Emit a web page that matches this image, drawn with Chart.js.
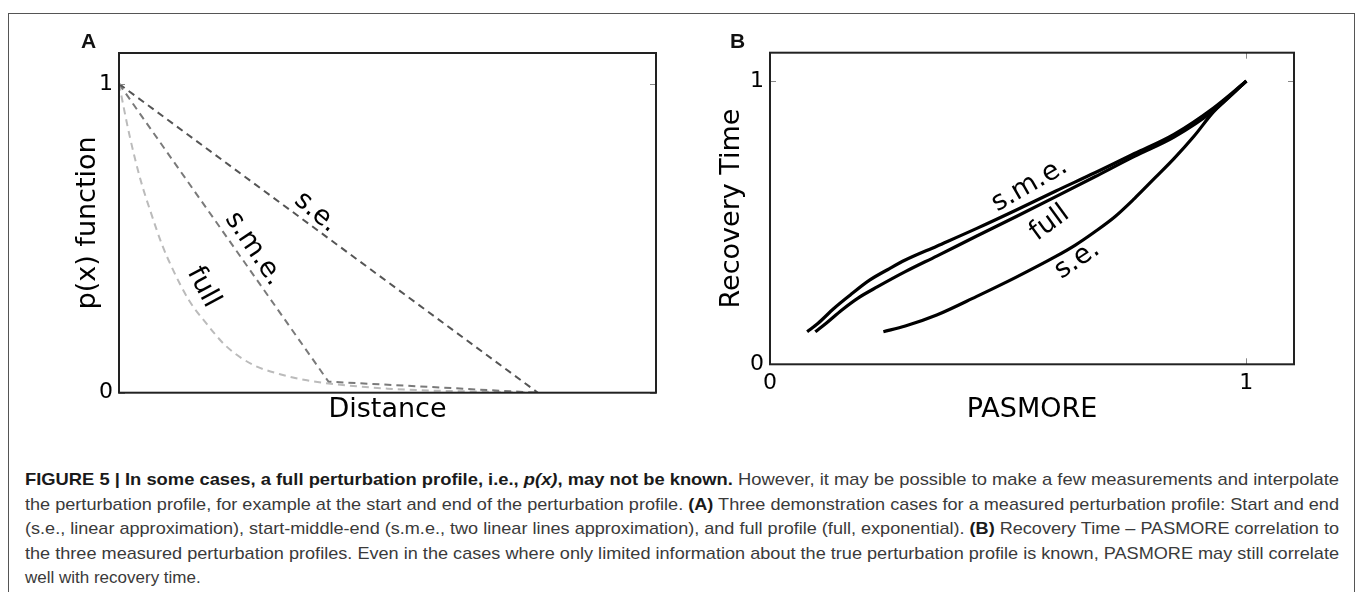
<!DOCTYPE html>
<html>
<head>
<meta charset="utf-8">
<script src="https://cdn.jsdelivr.net/npm/chart.js@4.4.1/dist/chart.umd.min.js"></script>
<style>
  html, body { margin: 0; padding: 0; background: #fff; width: 1358px; height: 592px; overflow: hidden; }
  #frame { position: absolute; left: 8px; top: 13px; width: 1347px; height: 640px; border: 1px solid #555; box-sizing: border-box; }
  canvas { position: absolute; top: 0; }
  #cA { left: 0; }
  #cB { left: 680px; }
  .panel { position: absolute; font-family: "Liberation Sans", Arial, sans-serif; font-weight: bold; font-size: 21px; color: #111; }
  #caption { position: absolute; left: 25px; top: 468px; width: 1314px; font-family: "Liberation Sans Narrow", "Liberation Sans", Arial, sans-serif; font-size: 17px; color: #3a3a3a; }
  #caption .ln { height: 24.5px; line-height: 24.5px; white-space: nowrap; }
  #caption .ln span.inner { display: inline-block; transform-origin: 0 50%; }
  #caption b { color: #1a1a1a; }
</style>
</head>
<body>
<div id="frame"></div>
<canvas id="cA" width="680" height="440"></canvas>
<canvas id="cB" width="678" height="440"></canvas>
<div class="panel" style="left:81px; top:29px;">A</div>
<div class="panel" style="left:730px; top:29px;">B</div>
<div id="caption">
  <div class="ln fit"><span class="inner"><b>FIGURE 5 | In some cases, a full perturbation profile, i.e., <i>p(x)</i>, may not be known.</b> However, it may be possible to make a few measurements and interpolate</span></div>
  <div class="ln fit"><span class="inner">the perturbation profile, for example at the start and end of the perturbation profile. <b>(A)</b> Three demonstration cases for a measured perturbation profile: Start and end</span></div>
  <div class="ln fit"><span class="inner">(s.e., linear approximation), start-middle-end (s.m.e., two linear lines approximation), and full profile (full, exponential). <b>(B)</b> Recovery Time – PASMORE correlation to</span></div>
  <div class="ln fit"><span class="inner">the three measured perturbation profiles. Even in the cases where only limited information about the true perturbation profile is known, PASMORE may still correlate</span></div>
  <div class="ln"><span class="inner">well with recovery time.</span></div>
</div>
<script>
// ---------- Panel A data: p(x) vs Distance ----------
const seX_A   = [0, 0.78];
const seY_A   = [1, 0];
const smeX_A  = [0, 0.39, 0.78];
const smeY_A  = [1, 0.036, 0];
const fullX_A = [0, 0.02, 0.04, 0.06, 0.08, 0.10, 0.13, 0.16, 0.20, 0.25, 0.30, 0.35, 0.40, 0.50, 0.60, 0.70, 0.78];
const fullY_A = [1.0, 0.83, 0.69, 0.58, 0.48, 0.40, 0.30, 0.23, 0.15, 0.09, 0.06, 0.04, 0.028, 0.013, 0.006, 0.003, 0.0];
const yTicksA = [0, 1];

// ---------- Panel B data: Recovery Time vs PASMORE ----------
const smeX_B  = [0.078, 0.101, 0.134, 0.168, 0.209, 0.251, 0.284, 0.350, 0.433, 0.516, 0.599, 0.682, 0.765, 0.848, 0.931, 1.0];
const smeY_B  = [0.115, 0.145, 0.197, 0.244, 0.297, 0.338, 0.368, 0.417, 0.479, 0.544, 0.611, 0.676, 0.744, 0.812, 0.905, 1.0];
const fullX_B = [0.095, 0.118, 0.151, 0.184, 0.226, 0.284, 0.350, 0.433, 0.516, 0.599, 0.682, 0.765, 0.848, 0.931, 1.0];
const fullY_B = [0.115, 0.145, 0.192, 0.233, 0.274, 0.327, 0.382, 0.452, 0.521, 0.591, 0.662, 0.734, 0.802, 0.895, 1.0];
const seX_B   = [0.238, 0.284, 0.350, 0.433, 0.516, 0.599, 0.641, 0.682, 0.724, 0.765, 0.807, 0.848, 0.890, 0.931, 1.0];
const seY_B   = [0.115, 0.135, 0.174, 0.239, 0.307, 0.380, 0.421, 0.468, 0.521, 0.585, 0.656, 0.726, 0.805, 0.891, 1.0];
const xTicksB = [0, 1];
const yTicksB = [0, 1];

// ---------- curve labels (text, data x, data y, rotation deg) ----------
const labelsA = [
  { text: 's.e.',   x: 0.367, y: 0.584, rot: 40 },
  { text: 's.m.e.', x: 0.251, y: 0.466, rot: 56 },
  { text: 'full',   x: 0.157, y: 0.342, rot: 62 }
];
const labelsB = [
  { text: 's.m.e.', x: 0.545, y: 0.633, rot: -30 },
  { text: 'full',   x: 0.587, y: 0.498, rot: -36 },
  { text: 's.e.',   x: 0.645, y: 0.368, rot: -34 }
];

const pts = (xs, ys) => xs.map((x, i) => ({ x: x, y: ys[i] }));
const FONT = '"DejaVu Sans", sans-serif';

const boxPlugin = {
  id: 'boxPlugin',
  afterDatasetsDraw(chart, args, opts) {
    const { ctx, chartArea: a, scales } = chart;
    ctx.save();
    ctx.strokeStyle = '#888';
    ctx.lineWidth = 1;
    const seg = (x1, y1, x2, y2) => { ctx.beginPath(); ctx.moveTo(x1, y1); ctx.lineTo(x2, y2); ctx.stroke(); };
    (opts.yTicks || []).forEach(v => {
      const y = Math.round(scales.y.getPixelForValue(v)) + 0.5;
      seg(a.left, y, a.left + 6, y); seg(a.right, y, a.right - 6, y);
    });
    (opts.xTicks || []).forEach(v => {
      const x = Math.round(scales.x.getPixelForValue(v)) + 0.5;
      seg(x, a.bottom, x, a.bottom - 6); seg(x, a.top, x, a.top + 6);
    });
    ctx.strokeStyle = '#222';
    ctx.lineWidth = 2;
    ctx.strokeRect(a.left, a.top, a.right - a.left, a.bottom - a.top);
    ctx.fillStyle = '#000';
    ctx.font = '27px ' + FONT;
    ctx.textAlign = 'center';
    ctx.textBaseline = 'middle';
    (opts.labels || []).forEach(l => {
      ctx.save();
      ctx.translate(scales.x.getPixelForValue(l.x), scales.y.getPixelForValue(l.y));
      ctx.rotate(l.rot * Math.PI / 180);
      ctx.fillText(l.text, 0, 0);
      ctx.restore();
    });
    ctx.restore();
  }
};

function baseOptions(cfg) {
  return {
    responsive: false,
    animation: false,
    devicePixelRatio: 1,
    layout: { padding: cfg.padding },
    plugins: { legend: { display: false }, tooltip: { enabled: false },
      boxPlugin: { yTicks: cfg.yTicks, xTicks: cfg.xTicks, labels: cfg.labels } },
    elements: { point: { radius: 0 } },
    scales: {
      x: {
        type: 'linear', min: 0, max: cfg.xMax,
        grid: { display: false, drawTicks: false },
        border: { display: false },
        afterFit: s => { s.height = cfg.xH; },
        afterBuildTicks: s => { s.ticks = (cfg.xTicks || []).map(v => ({ value: v })); },
        ticks: { display: !!cfg.xTicks, padding: 6, color: '#000', font: { family: FONT, size: 22 }, callback: v => String(v) },
        title: { display: true, text: cfg.xTitle, color: '#000', font: { family: FONT, size: 27 }, padding: { top: 0, bottom: 13.8 } }
      },
      y: {
        type: 'linear', min: 0, max: 1.1,
        grid: { display: false, drawTicks: false },
        border: { display: false },
        afterFit: s => { s.width = cfg.yW; },
        afterBuildTicks: s => { s.ticks = cfg.yTicks.map(v => ({ value: v })); },
        ticks: { padding: 6, color: '#000', font: { family: FONT, size: 22 }, callback: v => String(v) },
        title: { display: true, text: cfg.yTitle, color: '#000', font: { family: FONT, size: 27 }, padding: { top: cfg.yTitlePad, bottom: 0 } }
      }
    }
  };
}

const dashA = [7, 5];
new Chart(document.getElementById('cA'), {
  type: 'line',
  data: { datasets: [
    { data: pts(seX_A, seY_A), borderColor: '#555555', borderWidth: 2, borderDash: dashA, tension: 0 },
    { data: pts(smeX_A, smeY_A), borderColor: '#7a7a7a', borderWidth: 2, borderDash: dashA, tension: 0 },
    { data: pts(fullX_A, fullY_A), borderColor: '#bbbbbb', borderWidth: 2, borderDash: dashA, cubicInterpolationMode: 'monotone' }
  ] },
  options: baseOptions({ padding: { left: 0, top: 53, right: 24, bottom: 0 }, yW: 119, xH: 47.3, xMax: 1,
    yTicks: yTicksA, xTicks: null, labels: labelsA, xTitle: 'Distance', yTitle: 'p(x) function', yTitlePad: 71.8 }),
  plugins: [boxPlugin]
});

new Chart(document.getElementById('cB'), {
  type: 'line',
  data: { datasets: [
    { data: pts(smeX_B, smeY_B), borderColor: '#000', borderWidth: 3.2, cubicInterpolationMode: 'monotone' },
    { data: pts(fullX_B, fullY_B), borderColor: '#000', borderWidth: 3.2, cubicInterpolationMode: 'monotone' },
    { data: pts(seX_B, seY_B), borderColor: '#000', borderWidth: 3.2, cubicInterpolationMode: 'monotone' }
  ] },
  options: baseOptions({ padding: { left: 0, top: 52.7, right: 64, bottom: 0 }, yW: 90, xH: 75.7, xMax: 1.1,
    yTicks: yTicksB, xTicks: xTicksB, labels: labelsB, xTitle: 'PASMORE', yTitle: 'Recovery Time', yTitlePad: 35.8 }),
  plugins: [boxPlugin]
});

// fit caption lines to the justified width
function fitCaption() {
  const W = 1314;
  document.querySelectorAll('#caption .ln.fit .inner').forEach(el => {
    el.style.transform = 'none';
    const w = el.getBoundingClientRect().width;
    el.style.transform = 'scaleX(' + (W / w) + ')';
  });
}
if (document.fonts && document.fonts.ready) document.fonts.ready.then(fitCaption); else fitCaption();
fitCaption();
</script>
</body>
</html>
